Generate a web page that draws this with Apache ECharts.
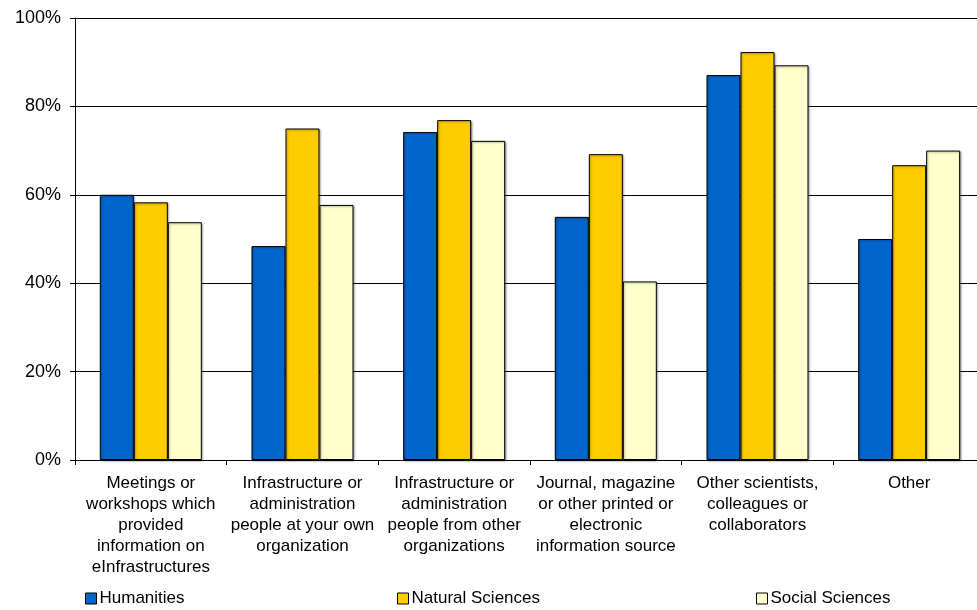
<!DOCTYPE html>
<html>
<head>
<meta charset="utf-8">
<script src="https://cdn.jsdelivr.net/npm/echarts@6/dist/echarts.min.js"></script>
<style>
html,body{margin:0;padding:0;background:#fff;overflow:hidden;width:977px;height:610px;}
#c{width:985px;height:610px;}
</style>
</head>
<body>
<div id="c"></div>
<script>
const categories = [
  "Meetings or\nworkshops which\nprovided\ninformation on\neInfrastructures",
  "Infrastructure or\nadministration\npeople at your own\norganization",
  "Infrastructure or\nadministration\npeople from other\norganizations",
  "Journal, magazine\nor other printed or\nelectronic\ninformation source",
  "Other scientists,\ncolleagues or\ncollaborators",
  "Other"
];
const seriesNames = ["Humanities", "Natural Sciences", "Social Sciences"];
const humanities = [60.0, 48.4, 74.2, 55.0, 87.1, 50.0];
const naturalSciences = [58.3, 75.0, 76.9, 69.2, 92.3, 66.7];
const socialSciences = [53.8, 57.7, 72.2, 40.4, 89.3, 70.0];
const yTicks = [0, 20, 40, 60, 80, 100];

const colors = ["#0066CC", "#FFCC00", "#FFFFCC"];
const FONT = "'Liberation Sans', Arial, sans-serif";
const chart = echarts.init(document.getElementById('c'), null, {renderer: 'canvas'});

function mkSeries(name, data, color) {
  return {
    name: name,
    type: 'bar',
    data: data,
    barWidth: 34,
    barGap: '0%',
    itemStyle: {
      color: color,
      borderColor: '#000',
      borderWidth: 1,
      shadowColor: 'rgba(0,0,0,0.35)',
      shadowBlur: 2,
      shadowOffsetX: 1,
      shadowOffsetY: 1
    },
    emphasis: {disabled: true}
  };
}

function mkLegend(name, left) {
  return {
    data: [name],
    left: left,
    top: 590,
    icon: 'rect',
    itemWidth: 11,
    itemHeight: 11,
    itemGap: 4,
    padding: 0,
    textStyle: {fontFamily: FONT, fontSize: 17, color: '#000', padding: [0,0,0,-2]},
    itemStyle: {borderColor: '#000', borderWidth: 1, shadowBlur: 0, shadowOffsetX: 0, shadowOffsetY: 0}
  };
}

chart.setOption({
  animation: false,
  backgroundColor: '#fff',
  legend: [
    mkLegend(seriesNames[0], 85),
    mkLegend(seriesNames[1], 397),
    mkLegend(seriesNames[2], 756)
  ],
  grid: {left: 75, top: 18, right: 0, bottom: 150, containLabel: false},
  xAxis: {
    type: 'category',
    data: categories,
    axisLine: {show: true, lineStyle: {color: '#000', width: 1}},
    axisTick: {show: true, length: 5, inside: false, alignWithLabel: false, lineStyle: {color: '#000'}},
    axisLabel: {
      interval: 0,
      margin: 13,
      fontFamily: FONT,
      fontSize: 17,
      lineHeight: 21,
      color: '#000',
      align: 'center'
    },
    splitLine: {show: false}
  },
  yAxis: {
    type: 'value',
    min: yTicks[0],
    max: yTicks[yTicks.length - 1],
    interval: 20,
    axisLine: {show: true, lineStyle: {color: '#000', width: 1}},
    axisTick: {show: true, length: 5, lineStyle: {color: '#000'}},
    axisLabel: {
      formatter: '{value}%',
      margin: 14,
      fontFamily: FONT,
      fontSize: 18,
      color: '#000'
    },
    splitLine: {show: true, lineStyle: {color: '#000', width: 1}}
  },
  series: [
    mkSeries(seriesNames[0], humanities, colors[0]),
    mkSeries(seriesNames[1], naturalSciences, colors[1]),
    mkSeries(seriesNames[2], socialSciences, colors[2])
  ]
});
</script>
</body>
</html>
